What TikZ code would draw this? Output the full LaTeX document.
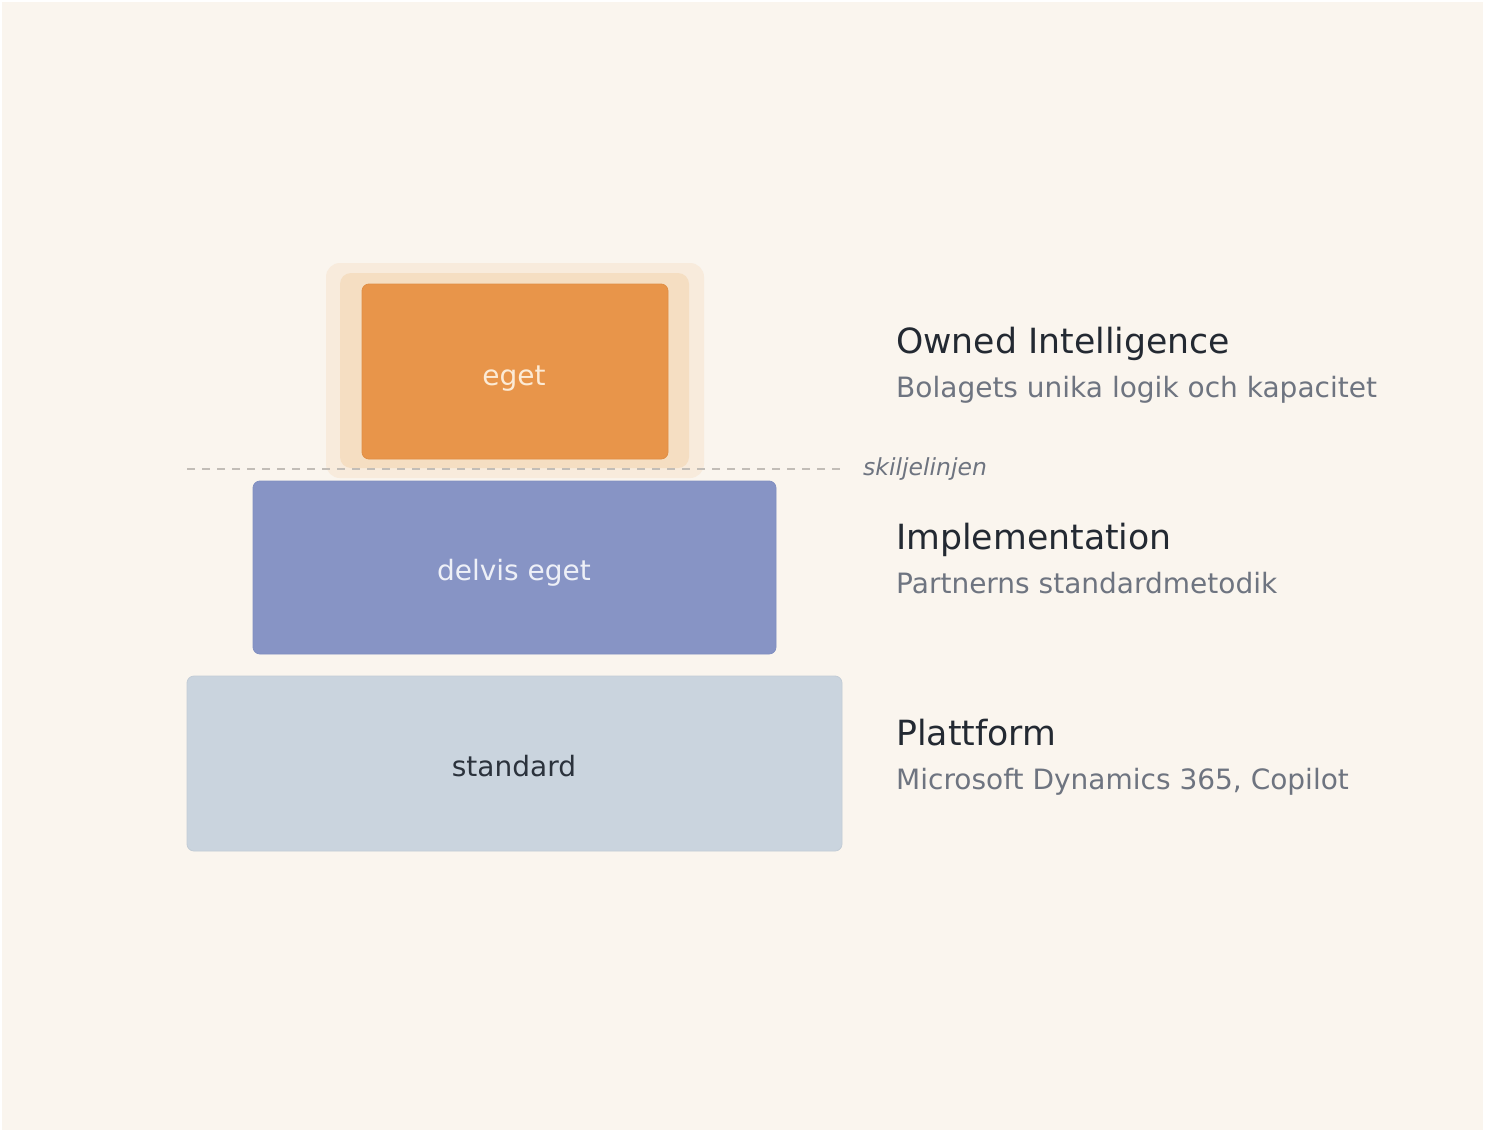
\documentclass[tikz,border=0pt]{standalone}
\usepackage{fontspec}
\setmainfont{DejaVu Sans}
\definecolor{bg}{HTML}{FAF5EE}
\definecolor{glowA}{HTML}{F8EBDC}
\definecolor{glowB}{HTML}{F5DEC2}
\definecolor{egetfill}{HTML}{E8954A}
\definecolor{egetdraw}{HTML}{E08F46}
\definecolor{egettext}{HTML}{FCEBD6}
\definecolor{delvfill}{HTML}{8794C5}
\definecolor{delvdraw}{HTML}{8190C1}
\definecolor{delvtext}{HTML}{EEF0F7}
\definecolor{stdfill}{HTML}{CAD4DE}
\definecolor{stddraw}{HTML}{C2CCD6}
\definecolor{stdtext}{HTML}{2B323C}
\definecolor{titletext}{HTML}{232932}
\definecolor{subtext}{HTML}{6E7480}
\definecolor{dashcol}{HTML}{C2BDB7}
\begin{document}
\begin{tikzpicture}[x=1pt,y=-1pt,
  layerbox/.style={rounded corners=7pt, line width=0.8pt},
  boxlabel/.style={anchor=base, inner sep=0pt, font=\fontsize{28}{34}\selectfont},
  title/.style={anchor=base west, inner sep=0pt, text=titletext, font=\fontsize{34.7}{40}\selectfont},
  sub/.style={anchor=base west, inner sep=0pt, text=subtext, font=\fontsize{28}{34}\selectfont}]
\useasboundingbox (0,0) rectangle (1485,1132);
\fill[white] (0,0) rectangle (1485,1132);
\fill[bg] (2,2) rectangle (1483,1130);
% glow
\fill[glowA, rounded corners=14pt] (326,263) rectangle (704,478);
\fill[glowB, rounded corners=11pt] (340,273) rectangle (689,468);
% eget
\draw[layerbox, fill=egetfill, draw=egetdraw] (362,284) rectangle (668,459);
\node[boxlabel, text=egettext] (egetl) at (514,385) {eget};
% dashed divider
\coordinate (dl) at (187,469);
\coordinate (dr) at (842,469);
\draw[dashcol, line width=1.5pt, dash pattern=on 8pt off 7pt] (dl) -- (dr);
\node[anchor=base west, inner sep=0pt, text=subtext, font=\fontsize{23.5}{28}\selectfont\itshape] (skil) at (863,475) {skiljelinjen};
% delvis eget
\draw[layerbox, fill=delvfill, draw=delvdraw] (253,481) rectangle (776,654);
\node[boxlabel, text=delvtext] (delvl) at (514,580) {delvis eget};
% standard
\draw[layerbox, fill=stdfill, draw=stddraw] (187,676) rectangle (842,851);
\node[boxlabel, text=stdtext] (stdl) at (514,776) {standard};
% right labels
\node[title] (t1) at (896,353) {Owned Intelligence};
\node[sub] (s1) at (896,397) {Bolagets unika logik och kapacitet};
\node[title] (t2) at (896,549) {Implementation};
\node[sub] (s2) at (896,593) {Partnerns standardmetodik};
\node[title] (t3) at (896,745) {Plattform};
\node[sub] (s3) at (896,789) {Microsoft Dynamics 365, Copilot};
\end{tikzpicture}
\end{document}
